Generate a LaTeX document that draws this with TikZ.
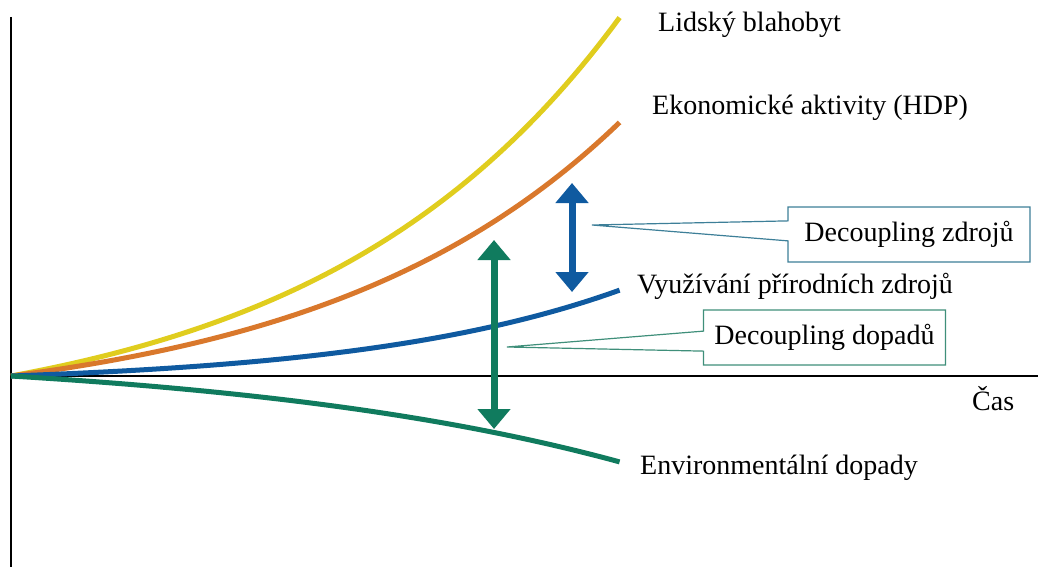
\documentclass[tikz,border=0pt]{standalone}
\usepackage{fontspec}
\setmainfont{Liberation Serif}
\usetikzlibrary{arrows.meta,shapes.callouts}
\definecolor{cyellow}{HTML}{E0CD1E}
\definecolor{corange}{HTML}{D9782C}
\definecolor{cblue}{HTML}{0F5AA0}
\definecolor{cgreen}{HTML}{107B5E}
\definecolor{boxblue}{HTML}{3D7F98}
\definecolor{boxgreen}{HTML}{3F8F7A}
\tikzset{
  curve/.style={line width=5pt},
  lbl/.style={inner sep=0pt, anchor=base west, font=\fontsize{28}{33}\selectfont},
  axis/.style={line width=1.4pt, black},
  bigarrow/.style={line width=7pt, {Triangle[width=32pt,length=20pt]}-{Triangle[width=32pt,length=20pt]}},
  callbox/.style={rectangle callout, draw=#1, line width=1.2pt, fill=white,
    minimum width=242pt, minimum height=55pt, inner sep=0pt,
    callout pointer width=20pt, font=\fontsize{28}{33}\selectfont}
}
\begin{document}
\begin{tikzpicture}[x=1pt,y=-1pt]
\useasboundingbox (0,0) rectangle (1038,567);
% axes
\coordinate (vtop) at (11,17);
\coordinate (vbot) at (11,567);
\coordinate (origin) at (11,376);
\coordinate (hend) at (1038,376);
\draw[axis] (vtop) -- (vbot);
\draw[axis] (origin) -- (hend);
% curves
\draw[curve, cyellow] plot[domain=0:1, samples=80] ({11+609*\x}, {376-359*(exp(2*\x)-1)/(exp(2)-1)});
\draw[curve, corange] plot[domain=0:1, samples=80] ({11+609*\x}, {376-254*(exp(2*\x)-1)/(exp(2)-1)});
\draw[curve, cblue] plot[domain=0:1, samples=80] ({11+609*\x}, {376-86*(exp(2.3*\x)-1)/(exp(2.3)-1)});
\draw[curve, cgreen] plot[domain=0:1, samples=80] ({11+609*\x}, {376+86*(exp(1.5*\x)-1)/(exp(1.5)-1)});
% labels
\node[lbl] (lwell) at (658,32) {Lidský blahobyt};
\node[lbl] (lecon) at (652,115) {Ekonomické aktivity (HDP)};
\node[lbl] (lres) at (637,293) {Využívání přírodních zdrojů};
\node[lbl] (lenv) at (640,474) {Environmentální dopady};
\node[lbl] (lcas) at (972,410) {Čas};
% arrows
\coordinate (ba1) at (572,183);
\coordinate (ba2) at (572,292);
\coordinate (ga1) at (494,240);
\coordinate (ga2) at (494,429);
\draw[bigarrow, cblue] (ba1) -- (ba2);
\draw[bigarrow, cgreen] (ga1) -- (ga2);
% callouts
\coordinate (p1) at (592,225);
\coordinate (p2) at (507,347);
\node[callbox=boxblue, callout absolute pointer={(p1)}] (dz) at (909,234.5) {Decoupling zdrojů};
\node[callbox=boxgreen, callout absolute pointer={(p2)}] (dd) at (824.5,337.5) {Decoupling dopadů};
\end{tikzpicture}
\end{document}
